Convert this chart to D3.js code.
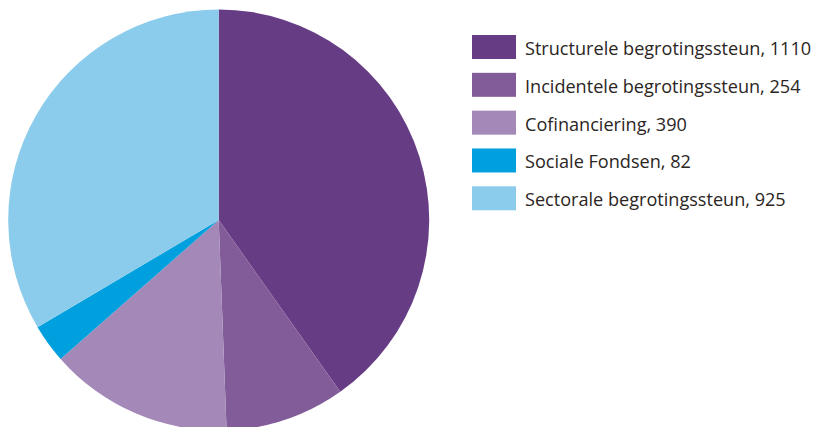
<!DOCTYPE html>
<html><head><meta charset="utf-8">
<script src="https://cdn.jsdelivr.net/npm/d3@7"></script>
<style>body{margin:0;background:#fff;}svg{display:block;}</style>
</head><body>
<script>
const categories = ["Structurele begrotingssteun", "Incidentele begrotingssteun", "Cofinanciering", "Sociale Fondsen", "Sectorale begrotingssteun"];
const values = [1110, 254, 390, 82, 925];
const colors = ["#663d85", "#825c98", "#a488b8", "#009fdd", "#8bccec"];

const W = 814, H = 427;
const svg = d3.select("body").append("svg").attr("width", W).attr("height", H);
const data = categories.map((c, i) => ({name: c, value: values[i], color: colors[i]}));

const pie = d3.pie().value(d => d.value).sort(null);
const arc = d3.arc().innerRadius(0).outerRadius(210.5);
const g = svg.append("g").attr("transform", "translate(218.7,220)");
g.selectAll("path").data(pie(data)).join("path")
  .attr("d", arc).attr("fill", d => d.data.color);

const leg = svg.append("g");
const rowY = d3.scaleLinear().domain([0, 4]).range([35, 186.3]);
const items = leg.selectAll("g").data(data).join("g")
  .attr("transform", (d, i) => `translate(472,${rowY(i)})`);
items.append("rect").attr("width", 44).attr("height", 24).attr("fill", d => d.color);
items.append("text").attr("x", 53).attr("y", 20)
  .attr("font-family", "Open Sans").attr("font-size", 18.1).attr("fill", "#2b2523")
  .text(d => `${d.name}, ${d.value}`);
</script>
</body></html>
